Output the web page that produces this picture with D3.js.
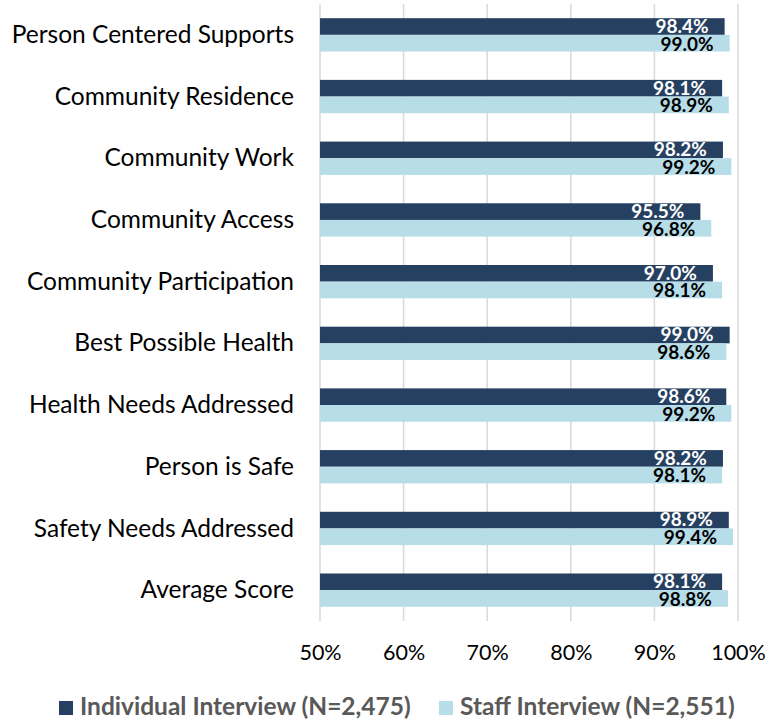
<!DOCTYPE html>
<html>
<head>
<meta charset="utf-8">
<script src="https://cdn.jsdelivr.net/npm/d3@7"></script>
<style>
  html, body { margin: 0; padding: 0; background: #fff; }
  svg { display: block; }
</style>
</head>
<body>
<svg id="chart" width="767" height="723"></svg>
<script>
// Outcome measures, in display order (top to bottom)
const categories = [
  "Person Centered Supports",
  "Community Residence",
  "Community Work",
  "Community Access",
  "Community Participation",
  "Best Possible Health",
  "Health Needs Addressed",
  "Person is Safe",
  "Safety Needs Addressed",
  "Average Score"
];

const seriesNames = ["Individual Interview (N=2,475)", "Staff Interview (N=2,551)"];

// Percent met, per measure
const individualValues = [98.4, 98.1, 98.2, 95.5, 97.0, 99.0, 98.6, 98.2, 98.9, 98.1];
const staffValues      = [99.0, 98.9, 99.2, 96.8, 98.1, 98.6, 99.2, 98.1, 99.4, 98.8];

const tickValues = [50, 60, 70, 80, 90, 100];

const colors = ["#264061", "#B7DDE8"];
const labelColors = ["#ffffff", "#000000"];
const FONT = "Lato, 'Open Sans', sans-serif";

const svg = d3.select("#chart");

const plot = { left: 320, right: 738, top: 4, bottom: 621 };

const x = d3.scaleLinear().domain([50, 100]).range([plot.left, plot.right]);

const y = d3.scaleBand()
  .domain(categories)
  .range([plot.top, plot.bottom])
  .paddingInner(0.46)
  .paddingOuter(0.23);

const ySub = d3.scaleBand()
  .domain([0, 1])
  .range([0, y.bandwidth()]);

const rows = categories.map((c, i) => ({
  category: c,
  values: [individualValues[i], staffValues[i]]
}));

// Vertical gridlines
svg.append("g")
  .selectAll("line")
  .data(tickValues)
  .join("line")
  .attr("x1", d => x(d)).attr("x2", d => x(d))
  .attr("y1", plot.top).attr("y2", plot.bottom)
  .attr("stroke", "#d9d9d9")
  .attr("stroke-width", 1.5);

// Bottom tick labels
const xAxis = d3.axisBottom(x)
  .tickValues(tickValues)
  .tickFormat(d => d + "%")
  .tickSize(0)
  .tickPadding(0);

svg.append("g")
  .attr("transform", `translate(0, 660)`)
  .call(xAxis)
  .call(g => g.select(".domain").remove())
  .call(g => g.selectAll("text")
    .attr("dy", 0)
    .attr("y", 0)
    .attr("font-family", FONT)
    .attr("font-size", 21.5)
    .attr("fill", "#000"));

// Category labels
const yAxis = d3.axisLeft(y).tickSize(0).tickPadding(0);
svg.append("g")
  .attr("transform", `translate(294, 0)`)
  .call(yAxis)
  .call(g => g.select(".domain").remove())
  .call(g => g.selectAll("text")
    .attr("dy", "0.33em")
    .attr("font-family", FONT)
    .attr("font-size", 24.5)
    .attr("fill", "#000"));

// Bars and value labels
const groups = svg.append("g")
  .selectAll("g")
  .data(rows)
  .join("g")
  .attr("transform", d => `translate(0, ${y(d.category)})`);

groups.selectAll("rect")
  .data(d => d.values.map((v, s) => ({ v, s })))
  .join("rect")
  .attr("x", x(50))
  .attr("y", d => ySub(d.s))
  .attr("width", d => x(d.v) - x(50))
  .attr("height", ySub.bandwidth())
  .attr("fill", d => colors[d.s]);

groups.selectAll("text")
  .data(d => d.values.map((v, s) => ({ v, s })))
  .join("text")
  .attr("x", d => x(d.v) - 16)
  .attr("y", d => ySub(d.s) + ySub.bandwidth() - (d.s === 0 ? 2 : 1))
  .attr("text-anchor", "end")
  .attr("font-family", FONT)
  .attr("font-weight", "bold")
  .attr("font-size", 19)
  .attr("fill", d => labelColors[d.s])
  .text(d => d.v.toFixed(1) + "%");

// Legend
const legendItems = [
  { name: seriesNames[0], color: colors[0], x: 59 },
  { name: seriesNames[1], color: colors[1], x: 439 }
];
const legend = svg.append("g");
legend.selectAll("rect")
  .data(legendItems)
  .join("rect")
  .attr("x", d => d.x)
  .attr("y", 701)
  .attr("width", 14)
  .attr("height", 14)
  .attr("fill", d => d.color);
legend.selectAll("text")
  .data(legendItems)
  .join("text")
  .attr("x", d => d.x + 21)
  .attr("y", 715)
  .attr("font-family", FONT)
  .attr("font-weight", "bold")
  .attr("font-size", 24.5)
  .attr("fill", "#595959")
  .text(d => d.name);
</script>
</body>
</html>
